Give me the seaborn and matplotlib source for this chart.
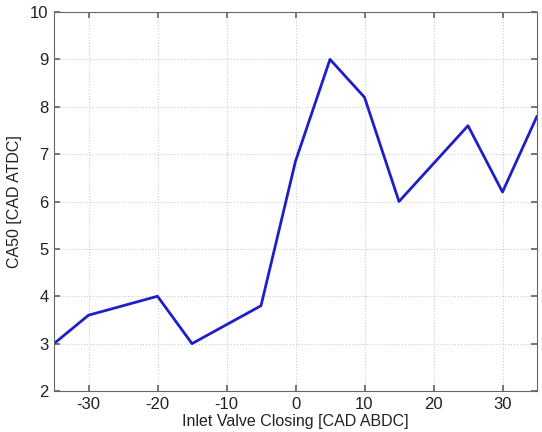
import matplotlib
matplotlib.use("Agg")
import matplotlib.pyplot as plt
import seaborn as sns
import pandas as pd

ivc = [-35, -30, -20, -15, -5, 0, 5, 10, 15, 25, 30, 35]
ca50 = [3.0, 3.6, 4.0, 3.0, 3.8, 6.85, 9.0, 8.2, 6.0, 7.6, 6.2, 7.8]
xticks = [-30, -20, -10, 0, 10, 20, 30]
yticks = [2, 3, 4, 5, 6, 7, 8, 9, 10]

sns.set_theme(style="white")
plt.rcParams['font.family'] = ['Liberation Sans', 'DejaVu Sans']

df = pd.DataFrame({"ivc": ivc, "ca50": ca50})

fig = plt.figure(figsize=(5.42, 4.32), dpi=100)
ax = fig.add_axes([54/542, 1 - 391/432, (537-54)/542, (391-12)/432])
sns.lineplot(data=df, x="ivc", y="ca50", ax=ax, color="#1f1fc8", linewidth=2.0)

ax.set_xlim(-35, 35)
ax.set_ylim(2, 10)
ax.set_xticks(xticks)
ax.set_yticks(yticks)
ax.set_xticklabels([str(t) for t in xticks])
ax.set_yticklabels([str(t) for t in yticks])
ax.grid(True, linestyle=":", color="#cccccc", linewidth=0.8)
ax.tick_params(direction="in", length=4, labelsize=12, labelcolor="#222222",
               color="#666666", top=True, right=True, bottom=True, left=True, pad=4)
for s in ax.spines.values():
    s.set_color("#666666")
    s.set_linewidth(0.8)
    s.set_visible(True)
ax.set_xlabel("Inlet Valve Closing [CAD ABDC]", fontsize=11.5, color="#222222", labelpad=2)
ax.set_ylabel("CA50 [CAD ATDC]", fontsize=11.5, color="#222222", labelpad=6)

fig.savefig("out.png", dpi=100)
